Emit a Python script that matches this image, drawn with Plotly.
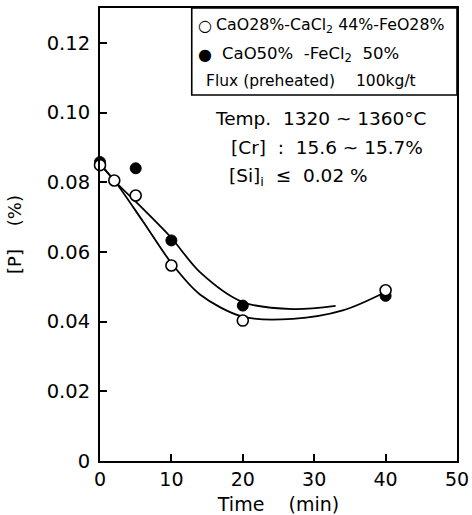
import plotly.graph_objects as go

# Measured [P] content vs. time for two fluxes
time_open = [0, 2, 5, 10, 20, 40]
p_open = [0.0849, 0.0805, 0.0762, 0.0561, 0.0403, 0.0490]

time_filled = [0, 5, 10, 20, 40]
p_filled = [0.0858, 0.0840, 0.0633, 0.0446, 0.0474]

# Hand-drawn trend curves
curve_open_t = [0, 2, 6, 10, 14, 20, 27, 34, 40]
curve_open_p = [0.0850, 0.0805, 0.0688, 0.0568, 0.0478, 0.0414, 0.0408, 0.0432, 0.0485]

curve_filled_t = [0, 2, 6, 10, 14, 20, 27, 33]
curve_filled_p = [0.0855, 0.0805, 0.0724, 0.0640, 0.0542, 0.0456, 0.0436, 0.0445]

x_ticks = [0, 10, 20, 30, 40, 50]
y_ticks = [0, 0.02, 0.04, 0.06, 0.08, 0.10, 0.12]
y_tick_text = ["0", "0.02", "0.04", "0.06", "0.08", "0.10", "0.12"]

FONT = "DejaVu Sans"
INK = "black"

fig = go.Figure()

fig.add_trace(go.Scatter(x=curve_open_t, y=curve_open_p, mode="lines",
                         line=dict(color=INK, width=1.8, shape="spline", smoothing=0.9),
                         showlegend=False, hoverinfo="skip"))
fig.add_trace(go.Scatter(x=curve_filled_t, y=curve_filled_p, mode="lines",
                         line=dict(color=INK, width=1.8, shape="spline", smoothing=0.9),
                         showlegend=False, hoverinfo="skip"))
fig.add_trace(go.Scatter(x=time_filled, y=p_filled, mode="markers",
                         marker=dict(symbol="circle", size=11, color=INK,
                                     line=dict(color=INK, width=1)),
                         showlegend=False, cliponaxis=False))
fig.add_trace(go.Scatter(x=time_open, y=p_open, mode="markers",
                         marker=dict(symbol="circle", size=11, color="white",
                                     line=dict(color=INK, width=1.6)),
                         showlegend=False, cliponaxis=False))

# Legend box in the upper-right corner
fig.add_shape(type="rect", xref="paper", yref="paper",
              x0=0.257, x1=1.0, y0=0.808, y1=1.0,
              line=dict(color=INK, width=1.6), fillcolor="white", layer="below")

legend_rows = [
    (0.962, "○", "CaO28%-CaCl<sub>2</sub> 44%-FeO28%", 15.8, 0.318),
    (0.897, "●", "CaO50%  -FeCl<sub>2</sub>  50%", 16.5, 0.336),
]
for yp, sym, label, fs, xp in legend_rows:
    fig.add_annotation(xref="paper", yref="paper", x=0.293, y=yp, text=sym,
                       showarrow=False, font=dict(family=FONT, size=16, color=INK),
                       xanchor="center", yanchor="middle")
    fig.add_annotation(xref="paper", yref="paper", x=xp, y=yp,
                       text=label, showarrow=False,
                       font=dict(family=FONT, size=fs, color=INK),
                       xanchor="left", yanchor="middle")
fig.add_annotation(xref="paper", yref="paper", x=0.29, y=0.838,
                   text="Flux (preheated)", showarrow=False,
                   font=dict(family=FONT, size=15.5, color=INK), xanchor="left", yanchor="middle")
fig.add_annotation(xref="paper", yref="paper", x=0.712, y=0.838,
                   text="100kg/t", showarrow=False,
                   font=dict(family=FONT, size=15.5, color=INK), xanchor="left", yanchor="middle")

# Experimental conditions
cond_rows = [
    (0.316, 0.757, "Temp.  1320 ~ 1360°C"),
    (0.36, 0.693, "[Cr]  :  15.6 ~ 15.7%"),
    (0.355, 0.628, "[Si]<sub>i</sub>  ≤  0.02 %"),
]
for xp, yp, txt in cond_rows:
    fig.add_annotation(xref="paper", yref="paper", x=xp, y=yp, text=txt,
                       showarrow=False, font=dict(family=FONT, size=18.5, color=INK),
                       xanchor="left", yanchor="middle")

fig.update_xaxes(range=[0, 50], tickvals=x_ticks, ticks="inside", ticklen=7,
                 tickwidth=1.5, tickcolor=INK, showline=True, linewidth=2,
                 linecolor=INK, mirror=True, showgrid=False, zeroline=False,
                 automargin=False,
                 tickfont=dict(family=FONT, size=19, color=INK),
                 title=dict(text="Time    (min)", font=dict(family=FONT, size=19, color=INK),
                            standoff=17))
fig.update_yaxes(range=[0, 0.13], tickvals=y_ticks, ticktext=y_tick_text,
                 ticks="inside", ticklen=7, tickwidth=1.5, tickcolor=INK,
                 showline=True, linewidth=2, linecolor=INK, mirror=True,
                 showgrid=False, zeroline=False, ticklabelstandoff=4,
                 automargin=False,
                 tickfont=dict(family=FONT, size=19.5, color=INK),
                 title=dict(text="[P]    (%)", font=dict(family=FONT, size=18, color=INK),
                            standoff=20))

fig.update_layout(width=472, height=515, paper_bgcolor="white", plot_bgcolor="white",
                  margin=dict(l=100, r=15, t=8, b=54), showlegend=False)

fig.write_html("out.html")
